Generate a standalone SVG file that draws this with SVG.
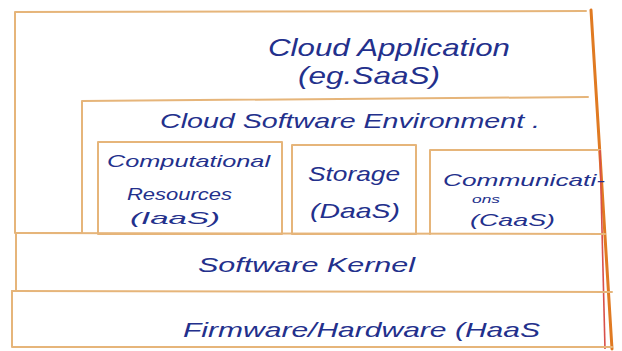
<svg xmlns="http://www.w3.org/2000/svg" width="622" height="351" viewBox="0 0 622 351">
<style>
.ln{fill:none;stroke:#e6b57a;stroke-width:2;stroke-linecap:round;stroke-linejoin:round}
.edge{fill:none;stroke:#e07a22;stroke-width:3;stroke-linecap:round}
.red{fill:none;stroke:#d8504a;stroke-width:1.6}
.t{font-family:"Liberation Sans",Arial,sans-serif;font-style:italic;fill:#23308c}
.big{font-size:24px}
.mid{font-size:21px}
.sm{font-size:17px}
</style>
<rect width="622" height="351" fill="#ffffff"/>
<g id="cloud-application">
<polyline class="ln" points="80,233 15,233 15,12 586,11"/>
<line class="edge" x1="591" y1="10" x2="612" y2="349"/>
<text class="t big" x="268" y="56" textLength="242" lengthAdjust="spacingAndGlyphs">Cloud Application</text>
<text class="t big" x="298" y="84" textLength="142" lengthAdjust="spacingAndGlyphs">(eg.SaaS)</text>
</g>
<g id="cloud-software-environment">
<polyline class="ln" points="82,233 82,101 588,97"/>
<text class="t mid" x="160" y="128" textLength="380" lengthAdjust="spacingAndGlyphs">Cloud Software Environment .</text>
</g>
<g id="computational-resources">
<rect class="ln" x="98" y="142" width="184" height="92"/>
<text class="t sm" x="107" y="167" textLength="163" lengthAdjust="spacingAndGlyphs">Computational</text>
<text class="t sm" x="127" y="200" textLength="105" lengthAdjust="spacingAndGlyphs">Resources</text>
<text class="t sm" x="130" y="224" textLength="90" lengthAdjust="spacingAndGlyphs">(IaaS)</text>
</g>
<g id="storage">
<rect class="ln" x="292" y="145" width="124" height="89"/>
<text class="t mid" x="308" y="181" textLength="92" lengthAdjust="spacingAndGlyphs">Storage</text>
<text class="t mid" x="310" y="218" textLength="90" lengthAdjust="spacingAndGlyphs">(DaaS)</text>
</g>
<g id="communications">
<polyline class="ln" points="430,234 430,150 600,150"/>
<line class="red" x1="600" y1="150" x2="605" y2="349"/>
<text class="t sm" x="443" y="186" textLength="162" lengthAdjust="spacingAndGlyphs">Communicati-</text>
<text class="t" style="font-size:11px" x="472" y="203" textLength="28" lengthAdjust="spacingAndGlyphs">ons</text>
<text class="t sm" x="470" y="226" textLength="85" lengthAdjust="spacingAndGlyphs">(CaaS)</text>
</g>
<g id="software-kernel">
<polyline class="ln" points="16,233 605,234"/>
<polyline class="ln" points="16,233 16,291"/>
<text class="t mid" x="198" y="272" textLength="217" lengthAdjust="spacingAndGlyphs">Software Kernel</text>
</g>
<g id="firmware-hardware">
<polyline class="ln" points="12,291 612,292"/>
<polyline class="ln" points="12,291 12,347 612,347"/>
<text class="t mid" x="183" y="337" textLength="357" lengthAdjust="spacingAndGlyphs">Firmware/Hardware (HaaS</text>
</g>
</svg>
